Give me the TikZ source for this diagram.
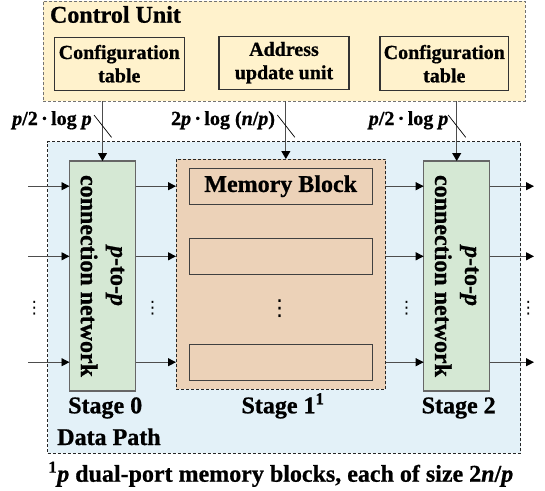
\documentclass[tikz,border=0pt]{standalone}
\usepackage{fontspec}
\setmainfont{Liberation Serif}[BoldFont=* Bold, ItalicFont=* Italic, BoldItalicFont=* Bold Italic,
  BoldFeatures={FakeBold=0.8}, BoldItalicFeatures={FakeBold=0.8}]
\newfontfamily\symfont{DejaVu Sans}
\usetikzlibrary{arrows.meta}

\definecolor{ctrlfill}{HTML}{FFF2CC}
\definecolor{pathfill}{HTML}{E3F1F8}
\definecolor{netfill}{HTML}{D5E8D4}
\definecolor{memfill}{HTML}{ECD2B8}
\definecolor{edgegray}{HTML}{4D4D4D}

\begin{document}
\begin{tikzpicture}[x=1pt,y=-1pt,
  every node/.style={font=\rmfamily\bfseries, inner sep=0pt, outer sep=0pt},
  bigtext/.style={font=\rmfamily\bfseries\fontsize{24}{30}\selectfont},
  midtext/.style={font=\rmfamily\bfseries\fontsize{20}{23.3}\selectfont},
  widthtext/.style={font=\rmfamily\bfseries\fontsize{20}{24}\selectfont},
  region/.style={draw, dash pattern=on 3pt off 2pt, line width=0.8pt},
  unitbox/.style={draw=black!80, line width=1.1pt, fill=ctrlfill, align=center, midtext},
  netbox/.style={draw=black!60, line width=1.1pt, fill=netfill, minimum width=66pt, minimum height=230pt},
  memslot/.style={draw=black!75, line width=1.1pt, fill=memfill, minimum width=183pt, minimum height=35.7pt},
  flow/.style={draw=edgegray, line width=0.9pt, -{Triangle[length=8pt,width=8pt,color=black]}},
  feed/.style={draw=edgegray, line width=0.9pt, -{Triangle[length=8pt,width=9pt,color=black]}},
  tick/.style={draw=black, line width=0.7pt},
  smalldots/.style={font=\symfont\fontsize{17}{17}\selectfont},
  memdots/.style={font=\symfont\fontsize{22}{22}\selectfont}
]
\useasboundingbox (0,0) rectangle (545,490);

% data path region
\node[region, draw=black!85, fill=pathfill, minimum width=473pt, minimum height=311.6pt] (path) at (284.2,297.5) {};
\node[bigtext, anchor=base west] (pathlbl) at (57.3,445) {Data Path};

% control unit region
\node[region, draw=black!55, fill=ctrlfill, minimum width=481.7pt, minimum height=100.3pt] (ctrl) at (284.15,51.15) {};
\node[bigtext, anchor=base west] (ctrllbl) at (50,22.7) {Control Unit};
\node[unitbox, minimum width=130pt, minimum height=53pt] (cfgA) at (119.3,63.7) {Configuration\\table};
\node[unitbox, minimum width=130pt, minimum height=53pt] (addr) at (284,62.7) {Address\\update unit};
\node[unitbox, minimum width=128.7pt, minimum height=54pt] (cfgB) at (444.3,63.7) {Configuration\\table};

% stage 0 and stage 2 networks
\node[netbox] (net0) at (102.5,276) {};
\node[bigtext, rotate=-90, align=center] (net0lbl) at (net0.center) {\textit{p}-to-\textit{p}\\connection network};
\node[netbox] (net2) at (456.7,276) {};
\node[bigtext, rotate=-90, align=center] (net2lbl) at (net2.center) {\textit{p}-to-\textit{p}\\connection network};

% stage 1 memory
\node[region, draw=black!85, fill=memfill, minimum width=209.7pt, minimum height=230.3pt] (mem) at (280.85,274.15) {};
\node[memslot, bigtext] (slot1) at (280.7,186.2) {Memory Block};
\node[memslot] (slot2) at (280.7,256.3) {};
\node[memslot] (slot3) at (280.7,362.2) {};

% stage captions
\node[bigtext, anchor=base] (st0) at (105.2,413.3) {Stage 0};
\node[bigtext, anchor=base] (st1) at (283,413.3) {Stage 1\textsuperscript{1}};
\node[bigtext, anchor=base] (st2) at (458.7,413.3) {Stage 2};

% vertical ellipses between the rows
\node[smalldots] (dotsA) at (34.3,308.5) {⋮};
\node[smalldots] (dotsB) at (152.7,308.5) {⋮};
\node[memdots] (dotsC) at (279.5,309) {⋮};
\node[smalldots] (dotsD) at (406.7,308.5) {⋮};
\node[smalldots] (dotsE) at (528.3,308.5) {⋮};

% data flow arrows
\coordinate (inx) at (28,0);
\coordinate (outx) at (534,0);
\foreach \s in {slot1,slot2,slot3}{
  \draw[flow] (inx |- \s) -- (net0.west |- \s);
  \draw[flow] (net0.east |- \s) -- (mem.west |- \s);
  \draw[flow] (mem.east |- \s) -- (net2.west |- \s);
  \draw[flow] (net2.east |- \s) -- (outx |- \s);
}

% control signals with bus-width marks
\coordinate (memin) at ([xshift=5pt]mem.north);
\draw[feed] (ctrl.south -| net0.north) -- (net0.north);
\draw[feed] (ctrl.south -| memin) -- (memin);
\draw[feed] (ctrl.south -| net2.north) -- (net2.north);
\draw[tick] (ctrl.south -| net0.north) ++(-8.5,13.7) -- ++(17.5,22.3);
\draw[tick] (ctrl.south -| memin) ++(-8.5,13.7) -- ++(17.5,22.3);
\draw[tick] (ctrl.south -| net2.north) ++(-8.5,13.7) -- ++(17.5,22.3);
\node[widthtext, anchor=base east] (wA) at (91.7,125) {\textit{p}/2\,·\,log \textit{p}};
\node[widthtext, anchor=base east] (wB) at (275,125) {2\textit{p}\,·\,log (\textit{n}/\textit{p})};
\node[widthtext, anchor=base east] (wC) at (448.3,125) {\textit{p}/2\,·\,log \textit{p}};

% footnote
\node[bigtext, anchor=base] (note) at (280.8,481.7) {\textsuperscript{1}\textit{p} dual-port memory blocks, each of size 2\textit{n}/\textit{p}};
\end{tikzpicture}
\end{document}
